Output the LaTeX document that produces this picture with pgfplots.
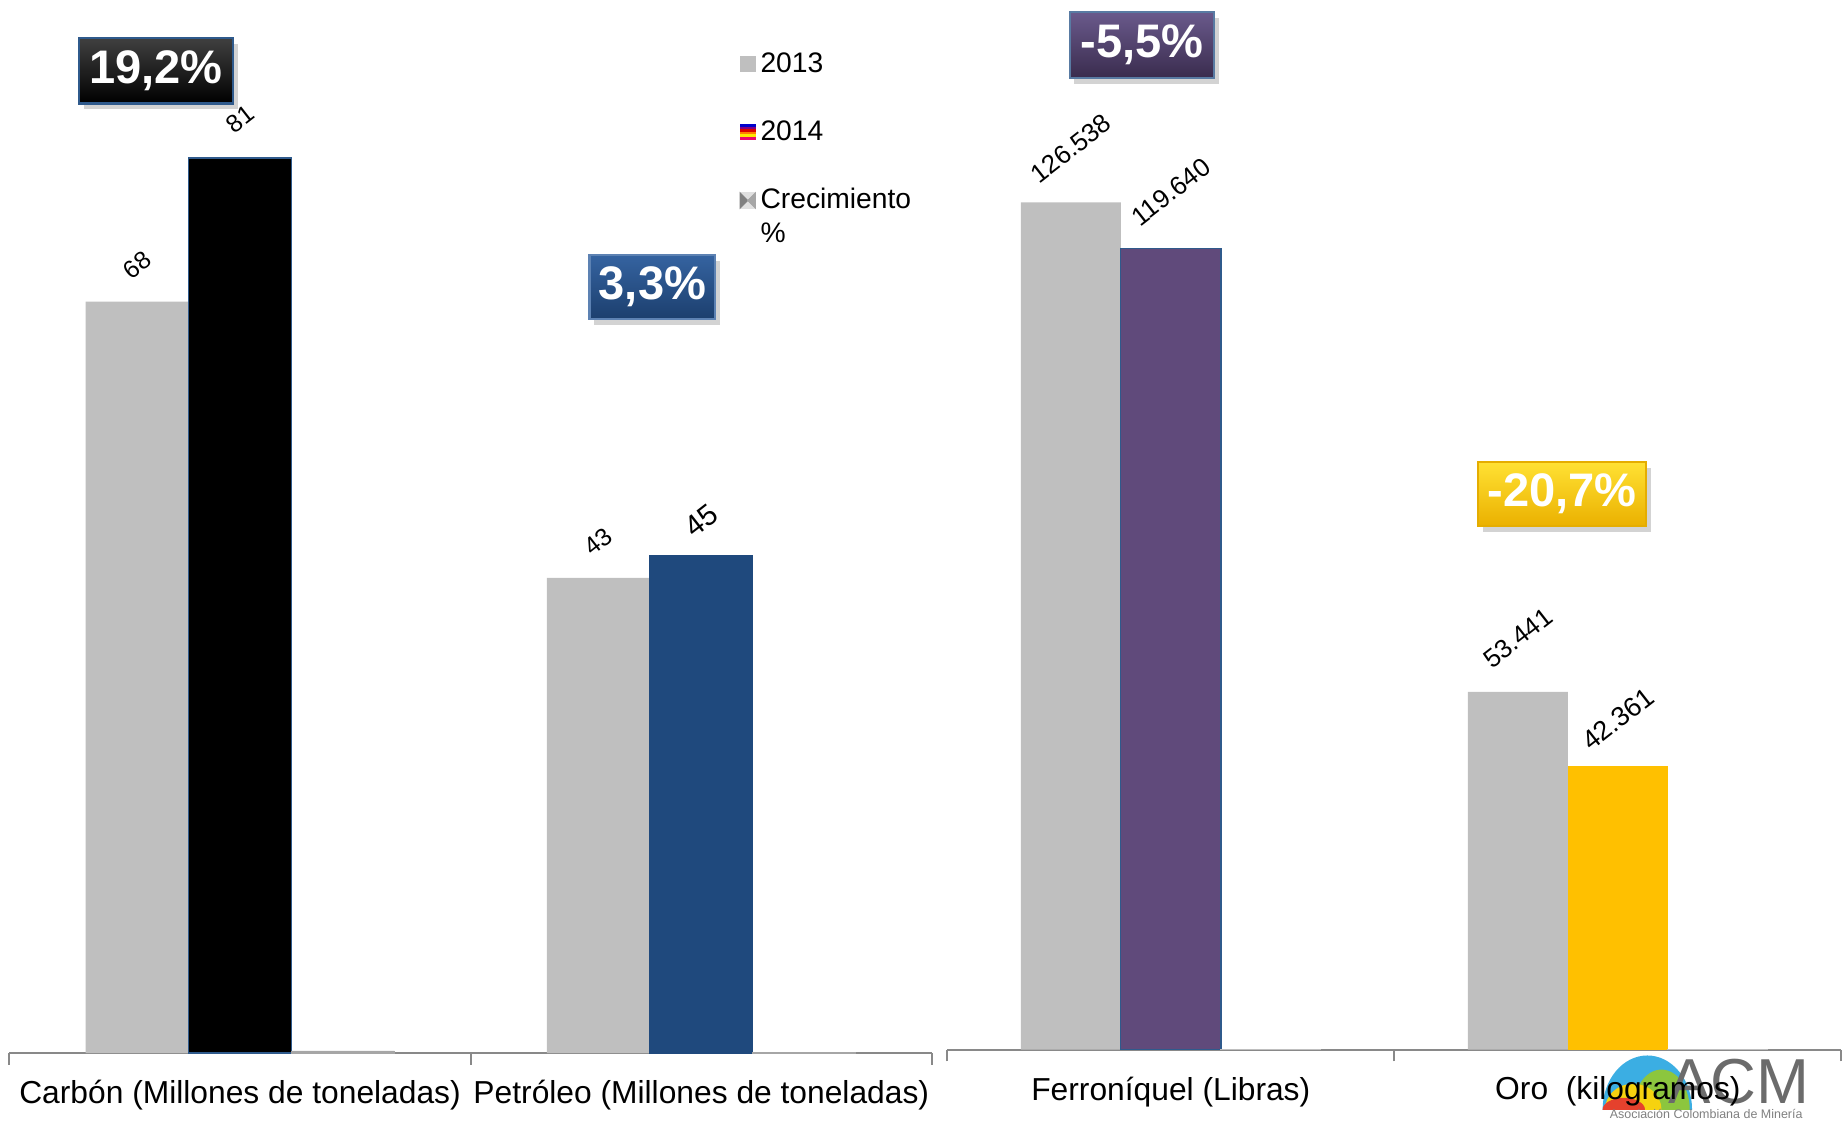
\documentclass[border=0pt]{standalone}
\usepackage{fontspec}
\setmainfont{Liberation Sans}
\usepackage{pgfplots}
\pgfplotsset{compat=1.18}
\usetikzlibrary{shadows}
\definecolor{c2013}{HTML}{BFBFBF}
\definecolor{petro}{HTML}{1F497D}
\definecolor{ferro}{HTML}{604A7B}
\definecolor{oro}{HTML}{FFC000}
\definecolor{edgeblue}{HTML}{2F5A8C}
\definecolor{axisgray}{HTML}{898989}
\definecolor{logoblue}{HTML}{3BAEE3}
\definecolor{logogreen}{HTML}{8CC63E}
\definecolor{logoyellow}{HTML}{F6D20F}
\definecolor{logored}{HTML}{E5412D}
\definecolor{bluetop}{HTML}{3563A0}
\definecolor{bluebot}{HTML}{1C3F6E}
\definecolor{purptop}{HTML}{6A5A8C}
\definecolor{purpbot}{HTML}{3A2C4E}
\pgfplotsset{
  commonaxis/.style={
    anchor=south west, scale only axis, clip=false,
    xmin=-0.5, xmax=1.5, ymin=0,
    axis x line=bottom, axis y line=none,
    x axis line style={-, draw=axisgray, line width=0.85pt},
    xtick={0,1}, major tick length=0pt,
    tick style={draw=axisgray, line width=0.85pt},
    extra x ticks={-0.5,0.5,1.5}, extra x tick labels={},
    extra x tick style={major tick length=5pt, tick align=outside},
    xticklabel style={font=\fontsize{13.5}{16}\selectfont, yshift=-8pt},
    /pgf/number format/assume math mode=true,
    /pgf/number format/.cd, fixed, precision=0, 1000 sep={.},
  },
  lbl/.style 2 args={nodes near coords,
    nodes near coords style={font=\fontsize{#1}{#1}\selectfont, text=black,
      yshift=#2, rotate=38, anchor=center}},
}
\tikzset{badge/.style={rectangle, text=white, font=\bfseries\fontsize{20}{20}\selectfont,
  line width=0.9pt, inner sep=0pt,
  drop shadow={shadow xshift=2pt, shadow yshift=-2.5pt, opacity=0.35}}}
\begin{document}
\begin{tikzpicture}
\path[use as bounding box] (0,0) rectangle (784pt,477.5pt);
% logo (behind axis labels)
\begin{scope}
\clip (670pt,6pt) rectangle (730pt,32pt);
\fill[logoblue] (700pt,6pt) ellipse [x radius=19pt, y radius=23pt];
\fill[logogreen] (706pt,6pt) ellipse [x radius=12pt, y radius=17pt];
\fill[logoyellow] (694pt,6pt) ellipse [x radius=12pt, y radius=11pt];
\fill[logored] (690pt,6pt) ellipse [x radius=9pt, y radius=5pt];
\end{scope}
\node[text=black!58, font=\fontsize{27}{27}\selectfont, inner sep=0pt] at (739pt,18pt) {ACM};
\node[text=black!50, font=\fontsize{5.3}{6}\selectfont, inner sep=0pt] at (725pt,4pt) {Asociación Colombiana de Minería};

% ---------- left panel ----------
\begin{axis}[commonaxis,
  at={(4pt,30pt)}, width=392pt, height=447.5pt, ymax=95.3,
  xticklabels={Carbón (Millones de toneladas), Petróleo (Millones de toneladas)},
  legend style={at={(rel axis cs:0.791,0.955)}, anchor=north west, draw=none, fill=none,
    font=\fontsize{12}{14.4}\selectfont, row sep=15pt, inner sep=0pt, cells={anchor=west}},
  legend cell align=left,
]
\addlegendimage{legend image code/.code={\fill[c2013] (0pt,-3.25pt) rectangle (6.5pt,3.25pt);}}
\addlegendentry{2013}
\addlegendimage{legend image code/.code={
  \fill[blue!80!black] (0pt,2.17pt) rectangle (6.5pt,3.25pt);
  \fill[violet] (0pt,1.08pt) rectangle (6.5pt,2.17pt);
  \fill[red!85!black] (0pt,0pt) rectangle (6.5pt,1.08pt);
  \fill[orange] (0pt,-1.08pt) rectangle (6.5pt,0pt);
  \fill[yellow!90!orange] (0pt,-2.17pt) rectangle (6.5pt,-1.08pt);
  \fill[magenta!70!red] (0pt,-3.25pt) rectangle (6.5pt,-2.17pt);}}
\addlegendentry{2014}
\addlegendimage{legend image code/.code={
  \fill[black!12] (0pt,-3.25pt) rectangle (6.5pt,3.25pt);
  \fill[black!50] (0pt,-3.25pt) -- (3.25pt,0pt) -- (0pt,3.25pt) -- cycle;
  \fill[black!35] (6.5pt,-3.25pt) -- (3.25pt,0pt) -- (6.5pt,3.25pt) -- cycle;}}
\addlegendentry{\parbox[t]{70pt}{Crecimiento\\\%}}

% bar offsets: one bar width = 43.75pt = 0.2232 x-units
\addplot[forget plot, ybar, bar width=43.75pt, fill=c2013, draw=none, lbl={10.5}{15.5pt}]
  coordinates {(-0.2232,68) (0.7768,43)};
\addplot[forget plot, ybar, bar width=43.75pt, fill=black, draw=edgeblue, line width=0.6pt, lbl={10.5}{16.5pt}]
  coordinates {(0,81)};
\addplot[forget plot, ybar, bar width=43.75pt, fill=petro, draw=petro, lbl={12.5}{15pt}]
  coordinates {(1,45)};
\addplot[forget plot, ybar, bar width=43.75pt, fill=black!35, draw=black!35, line width=0.3pt]
  coordinates {(0.2232,0.192) (1.2232,0.033)};
\end{axis}

% ---------- right panel ----------
\begin{axis}[commonaxis,
  at={(402.5pt,31.5pt)}, width=380pt, height=446pt, ymax=156770,
  xticklabels={Ferroníquel (Libras), Oro\ \ (kilogramos)},
]
% one bar width = 42.5pt = 0.2237 x-units
\addplot[ybar, bar width=42.5pt, fill=c2013, draw=none, lbl={11}{23pt}]
  coordinates {(-0.2237,126538) (0.7763,53441)};
\addplot[ybar, bar width=42.5pt, fill=ferro, draw=edgeblue, line width=0.6pt, lbl={11}{24pt}]
  coordinates {(0,119640)};
\addplot[ybar, bar width=42.5pt, fill=oro, draw=none, lbl={11.5}{20pt}]
  coordinates {(1,42361)};
\addplot[ybar, bar width=42.5pt, fill=black!25, draw=black!25, line width=0.4pt]
  coordinates {(0.2237,-0.055) (1.2237,-0.207)};
\end{axis}

% ---------- growth badges ----------
\node[badge, top color=black!75, bottom color=black, draw=edgeblue,
  minimum width=65.5pt, minimum height=28pt] at (66.25pt,447.5pt) {19,2\%};
\node[badge, top color=bluetop, bottom color=bluebot, draw=bluetop!80!white,
  minimum width=53.5pt, minimum height=27pt] at (277.25pt,355.5pt) {3,3\%};
\node[badge, top color=purptop, bottom color=purpbot, draw=edgeblue!80!white,
  minimum width=61.5pt, minimum height=28pt] at (485.25pt,458.5pt) {-5,5\%};
\node[badge, top color=oro!60!yellow!80!white, bottom color=oro!92!black, draw=oro!90!black,
  minimum width=71.5pt, minimum height=27pt] at (663.75pt,267.5pt) {-20,7\%};
\end{tikzpicture}
\end{document}
